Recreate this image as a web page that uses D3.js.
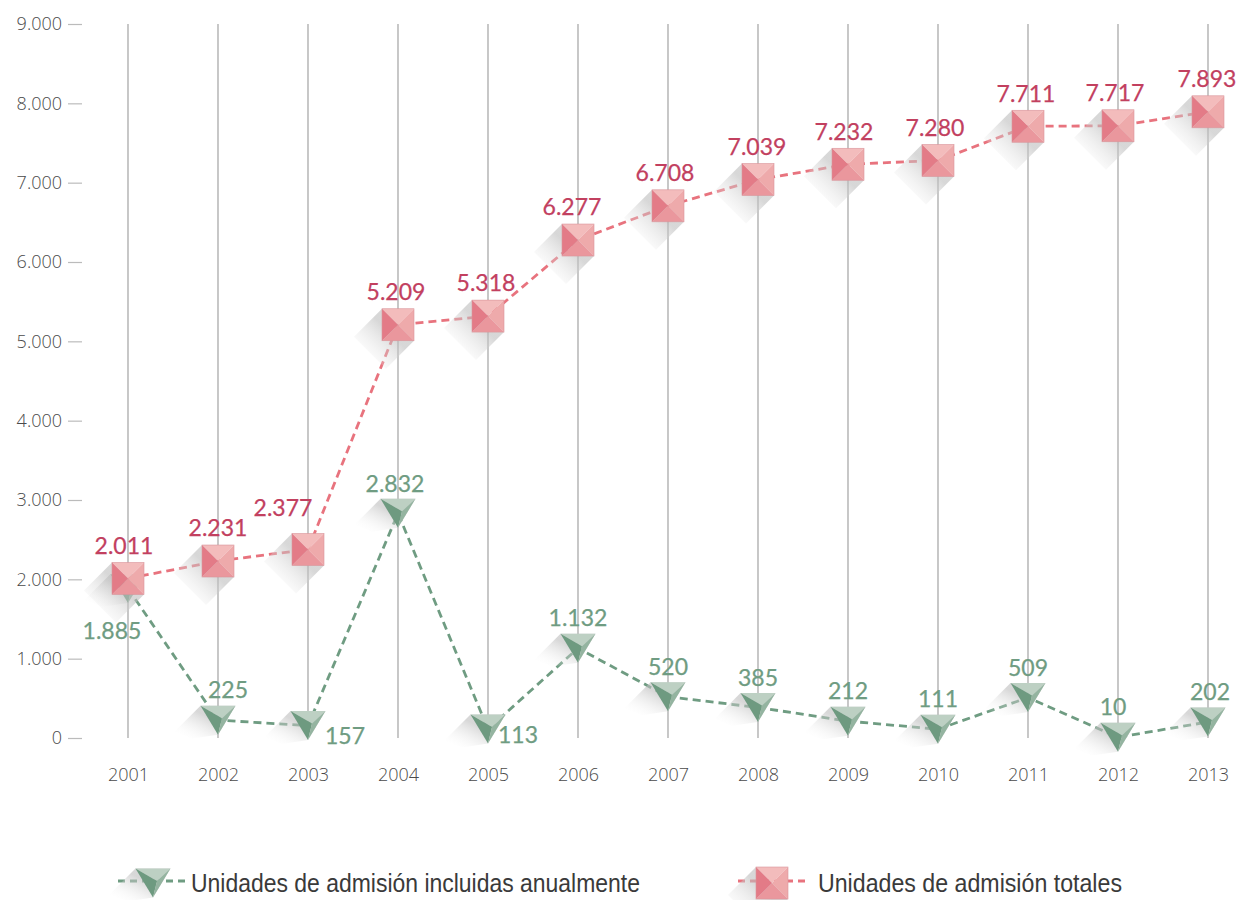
<!DOCTYPE html>
<html><head><meta charset="utf-8">
<script src="https://cdn.jsdelivr.net/npm/d3@7"></script>
<style>body{margin:0;background:#fff;} svg{display:block;}</style>
</head><body>
<script>
const years = ["2001","2002","2003","2004","2005","2006","2007","2008","2009","2010","2011","2012","2013"];
const anuales = [1885,225,157,2832,113,1132,520,385,212,111,509,10,202];
const totales = [2011,2231,2377,5209,5318,6277,6708,7039,7232,7280,7711,7717,7893];
const yTicks = [0,1000,2000,3000,4000,5000,6000,7000,8000,9000];
const seriesNames = ["Unidades de admisión incluidas anualmente","Unidades de admisión totales"];
// label offsets (dx, dy of label centre from point)
const anualesLabelOff = [[-16,42],[10,-30],[37,10],[-3,-30],[30,6],[0,-30],[0,-30],[0,-30],[0,-30],[0,-30],[0,-30],[-5,-30],[2,-30]];
const totalesLabelOff = [[-4,-33],[0,-33],[-25,-42],[-2,-33],[-2,-33],[-6,-33],[-3,-33],[-1,-33],[-4,-33],[-3,-33],[-2,-33],[-3,-33],[-1,-33]];

const W=1244,H=900;
const svg=d3.select("body").append("svg").attr("width",W).attr("height",H);
const x=d3.scalePoint().domain(years).range([128,1208]);
const y=d3.scaleLinear().domain([0,9000]).range([738,24]);
const fmt=v=>d3.format(",")(v).replace(/,/g,".");

const defs=svg.append("defs");
const sg=defs.append("linearGradient").attr("id","shad").attr("x1","1").attr("y1","0").attr("x2","0").attr("y2","1");
sg.append("stop").attr("offset","0.4").attr("stop-color","#bdbdbd").attr("stop-opacity",0.6);
sg.append("stop").attr("offset","0.95").attr("stop-color","#ffffff").attr("stop-opacity",0);

// grid verticals
svg.append("g").selectAll("line").data(years).join("line")
  .attr("x1",d=>x(d)).attr("x2",d=>x(d)).attr("y1",y(9000)).attr("y2",y(0))
  .attr("stroke","#b0b0b0").attr("stroke-width",1.4);

// y axis
const ya=svg.append("g").attr("transform","translate(82,0)")
  .call(d3.axisLeft(y).tickValues(yTicks).tickFormat(fmt).tickSize(14).tickPadding(6));
ya.select(".domain").remove();
ya.selectAll("line").attr("stroke","#bbbbbb").attr("stroke-width",1.2);
ya.selectAll("text").attr("font-family","Open Sans").attr("font-weight",300).attr("font-size",18).attr("fill","#4a4a4a");

// x axis
const xa=svg.append("g").attr("transform","translate(0,775)").call(d3.axisBottom(x).tickSize(0).tickPadding(0));
xa.select(".domain").remove();
xa.selectAll("text").attr("font-family","Open Sans").attr("font-weight",300).attr("font-size",18).attr("fill","#4a4a4a").attr("dy","0.35em");

const green={line:"#6f9c82",dark:"#6e9a80",mid:"#94b4a0",light:"#bdd0c3",text:"#6f9c82"};
const red={line:"#e8737e",text:"#c2405f"};

function triShape(g,cx,cy){
  const w=17.5,t=14.5,b=14.5;
  const TL=[cx-w,cy-t],TR=[cx+w,cy-t],B=[cx,cy+b],C=[cx+4,cy-2];
  const d=26;
  g.append("path").attr("d",`M${TL}L${TR}L${B}L${B[0]-d},${B[1]+d*0.15}L${TL[0]-d},${TL[1]+d}Z`).attr("fill","url(#shad)");
  g.append("path").attr("d",`M${TL}L${TR}L${C}Z`).attr("fill",green.light);
  g.append("path").attr("d",`M${TL}L${C}L${B}Z`).attr("fill",green.dark);
  g.append("path").attr("d",`M${TR}L${C}L${B}Z`).attr("fill",green.mid);
}
function sqShape(g,cx,cy){
  const h=16,w=16;
  const TL=[cx-w,cy-h],TR=[cx+w,cy-h],BR=[cx+w,cy+h],BL=[cx-w,cy+h],C=[cx,cy];
  const d=28;
  g.append("path").attr("d",`M${TL}L${BR}L${BR[0]-d},${BR[1]+d}L${TL[0]-d},${TL[1]+d}Z`).attr("fill","url(#shad)");
  g.append("path").attr("d",`M${TL}L${TR}L${C}Z`).attr("fill","#f3bcbc");
  g.append("path").attr("d",`M${TR}L${BR}L${C}Z`).attr("fill","#eeaaab");
  g.append("path").attr("d",`M${BR}L${BL}L${C}Z`).attr("fill","#ea979d");
  g.append("path").attr("d",`M${BL}L${TL}L${C}Z`).attr("fill","#e37b87");
  g.append("rect").attr("x",cx-w).attr("y",cy-h).attr("width",2*w).attr("height",2*h).attr("fill","none").attr("stroke","#d9959b").attr("stroke-width",0.6);
}

const line=d3.line().x(d=>x(d.year)).y(d=>y(d.v));
const dA=years.map((yr,i)=>({year:yr,v:anuales[i]}));
const dT=years.map((yr,i)=>({year:yr,v:totales[i]}));

function labels(data,off,color){
  svg.append("g").selectAll("text").data(data).join("text")
    .attr("x",(d,i)=>x(d.year)+off[i][0]).attr("y",(d,i)=>y(d.v)+off[i][1])
    .attr("text-anchor","middle").attr("dy","0.36em").attr("font-family","Lato").attr("font-size",23)
    .attr("fill",color).attr("stroke",color).attr("stroke-width",0.25).text(d=>fmt(d.v));
}

// green series
svg.append("path").datum(dA).attr("d",line).attr("fill","none").attr("stroke",green.line).attr("stroke-width",2.8).attr("stroke-dasharray","8,5");
const gm=svg.append("g");
dA.forEach(d=>triShape(gm,x(d.year),y(d.v)));
labels(dA,anualesLabelOff,green.text);

// red series
svg.append("path").datum(dT).attr("d",line).attr("fill","none").attr("stroke",red.line).attr("stroke-width",2.8).attr("stroke-dasharray","8,5");
const rm=svg.append("g");
dT.forEach(d=>sqShape(rm,x(d.year),y(d.v)));
labels(dT,totalesLabelOff,red.text);

// legend
const lg=svg.append("g");
function legendItem(x0,cxm,tx,color,shape,label,len){
  lg.append("line").attr("x1",x0).attr("x2",x0+68).attr("y1",881).attr("y2",881).attr("stroke",color).attr("stroke-width",2.8).attr("stroke-dasharray","7,5");
  const g=lg.append("g");
  shape(g,cxm,883);
  lg.append("text").attr("x",tx).attr("y",892).attr("font-family","Liberation Sans")
    .attr("font-size",25).attr("fill","#3a3a3a").attr("textLength",len).attr("lengthAdjust","spacingAndGlyphs").text(label);
}
legendItem(118,153,191,green.line,triShape,seriesNames[0],449);
legendItem(738,772,818,red.line,sqShape,seriesNames[1],304);
</script>
</body></html>
